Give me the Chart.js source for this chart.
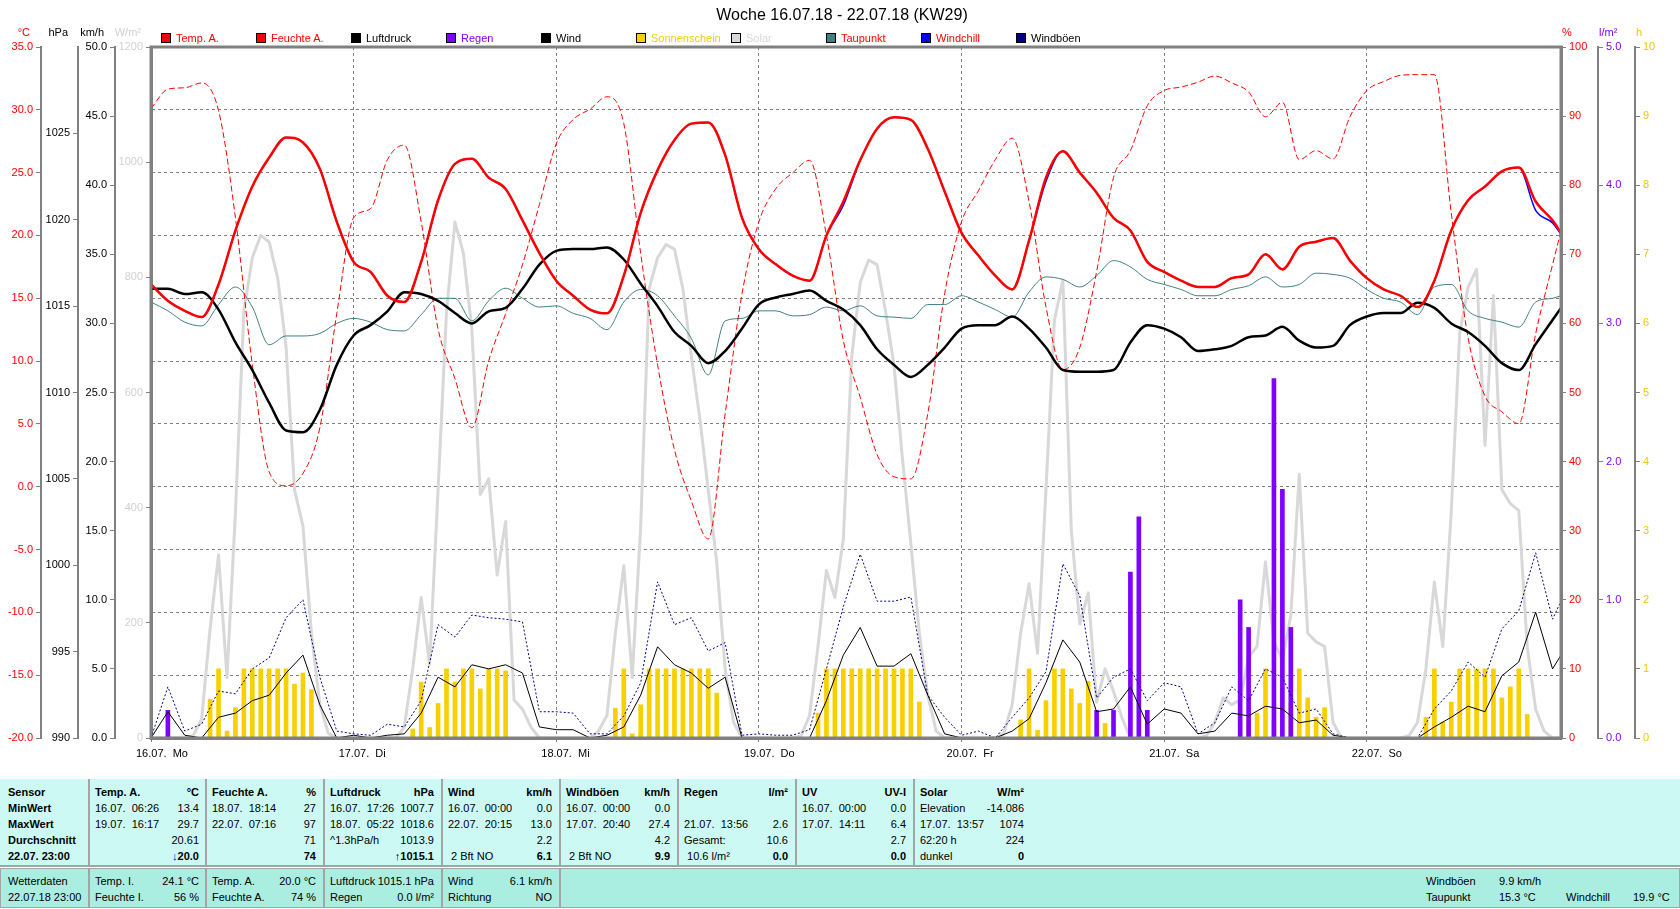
<!DOCTYPE html>
<html lang="de">
<head>
<meta charset="utf-8">
<title>Woche 16.07.18 - 22.07.18 (KW29)</title>
<script src="https://cdn.jsdelivr.net/npm/chart.js@4.4.1/dist/chart.umd.min.js"></script>
<style>
  html, body { margin: 0; padding: 0; background: #fff; }
  body { position: relative; width: 1680px; height: 909px; overflow: hidden;
         font-family: "Liberation Sans", Arial, sans-serif; font-size: 11px; color: #000; }
  #chart { position: absolute; left: 0; top: 0; }
  .t { position: absolute; white-space: pre; line-height: 16px; }
  #title { position: absolute; left: 0; width: 1684px; top: 6px; text-align: center;
           font-size: 16px; line-height: 18px; }
  .unit { position: absolute; top: 26px; line-height: 13px; white-space: pre; }
  .lg { position: absolute; top: 32px; height: 12px; display: flex; align-items: center; white-space: pre; }
  .lg i { display: inline-block; width: 8px; height: 8px; border: 1px solid #000; margin-right: 5px; }
  .panel1 { position: absolute; left: 0; top: 779px; width: 1680px; height: 86px;
            background: #cdf9f4; border-bottom: 2px solid #a4a4a4; }
  .panel2 { position: absolute; left: 0; top: 868px; width: 1678px; height: 38px;
            background: #aaeee2; border: 1px solid #a4a4a4; }
  .sep { position: absolute; width: 2px; background: #a4a4a4; }
  .b { font-weight: bold; }
</style>
</head>
<body>
<canvas id="chart" width="1680" height="770"></canvas>
<div id="title">Woche 16.07.18 - 22.07.18 (KW29)</div>
<div class="panel1"></div>
<div class="panel2"></div>
<script>
// Stunden seit 16.07. 00:00
const hours2 = [0,2,4,6,8,10,12,14,16,18,20,22,24,26,28,30,32,34,36,38,40,42,44,46,48,50,52,54,56,58,60,62,64,66,68,70,72,74,76,78,80,82,84,86,88,90,92,94,96,98,100,102,104,106,108,110,112,114,116,118,120,122,124,126,128,130,132,134,136,138,140,142,144,146,148,150,152,154,156,158,160,162,164,166,167];
const allHours = Array.from({ length: 168 }, (_, i) => i);
const dayHours = [0, 24, 48, 72, 96, 120, 144];
const dayLabels = ['16.07.  Mo', '17.07.  Di', '18.07.  Mi', '19.07.  Do', '20.07.  Fr', '21.07.  Sa', '22.07.  So'];

const tempA = [16.1,14.8,14.0,13.5,16.1,20.4,23.9,26.2,27.8,27.4,25.3,21.1,17.9,17.1,15.2,14.7,17.9,22.8,25.7,26.1,24.6,23.7,
  21.2,18.6,16.4,15.2,14.1,13.8,16.8,21.8,25.2,27.6,28.9,29.0,26.4,21.4,18.9,17.7,16.8,16.4,20.0,22.7,26.0,
  28.5,29.4,29.2,26.9,23.5,20.2,18.4,16.8,15.7,19.6,24.6,26.7,25.0,23.4,21.4,20.4,17.9,17.1,16.4,15.9,
  15.9,16.6,16.9,18.5,17.3,19.1,19.5,19.8,18.0,16.6,15.7,15.2,14.3,16.4,20.4,22.8,23.9,25.1,25.4,22.7,21.2,20.2];
const windchill = [16.1,14.8,14.0,13.5,16.1,20.4,23.9,26.2,27.8,27.4,25.3,21.1,17.9,17.1,15.2,14.7,17.9,22.8,25.7,26.1,24.6,23.7,
  21.2,18.6,16.4,15.2,14.1,13.8,16.8,21.8,25.2,27.6,28.9,29.0,26.4,21.4,18.9,17.7,16.8,16.4,20.0,22.4,26.0,
  28.5,29.4,29.2,26.9,23.5,20.2,18.4,16.8,15.7,19.6,24.3,26.7,25.0,23.4,21.4,20.4,17.9,17.1,16.4,15.9,
  15.9,16.6,16.9,18.5,17.3,19.1,19.5,19.8,18.0,16.6,15.7,15.2,14.3,16.4,20.4,22.8,23.9,25.1,25.4,22.0,21.0,20.1];
const humidity = [91.1,93.9,94.1,94.8,90.8,75.3,54.0,38.5,36.5,38.3,44.9,61.4,75.3,76.6,83.7,85.8,74.7,59.2,52.0,44.9,54.6,61.4,
  68.5,77.2,86.0,89.5,91.0,92.8,88.9,70.1,54.0,41.7,34.3,28.8,46.9,64.3,74.7,79.5,81.8,83.6,72.7,57.5,49.3,
  41.0,37.8,37.5,46.9,64.3,74.7,79.2,83.7,86.8,77.6,62.4,53.3,56.5,67.5,81.1,85.0,91.5,93.7,94.2,94.9,
  95.8,94.8,93.5,89.9,92.0,83.7,85.0,83.8,89.9,93.7,95.0,95.9,96.0,96.0,76.0,57.9,49.5,47.2,45.5,58.5,68.5,73.4];
const pressure = [1016.0,1016.0,1015.7,1015.8,1014.8,1012.9,1011.3,1009.4,1007.8,1007.7,1009.0,1011.6,1013.3,1013.9,1014.7,1015.8,1015.7,1015.3,1014.6,1014.0,1014.7,1014.9,
  1016.0,1017.4,1018.2,1018.3,1018.3,1018.4,1017.7,1016.3,1015.0,1013.5,1012.7,1011.7,1012.4,1013.7,1015.1,1015.5,1015.7,1015.9,1015.3,1014.8,1013.9,
  1012.5,1011.6,1010.9,1011.6,1012.6,1013.7,1013.9,1013.9,1014.4,1013.7,1012.6,1011.3,1011.2,1011.2,1011.3,1012.9,1013.9,1013.7,1013.2,1012.4,
  1012.5,1012.7,1013.2,1013.3,1013.8,1013.0,1012.6,1012.7,1013.9,1014.4,1014.6,1014.6,1015.2,1014.9,1014.0,1013.5,1012.7,1011.7,1011.3,1012.8,1014.2,1014.9];
const dewpoint = [14.7,14.0,13.1,12.8,14.5,15.9,14.3,11.3,12.0,12.0,12.2,13.0,13.4,13.1,12.5,12.4,13.7,15.0,15.0,13.2,14.8,15.8,
  15.0,14.3,14.4,13.8,13.4,12.5,14.7,15.7,15.2,13.6,11.8,8.9,13.2,13.4,14.0,14.0,13.6,13.7,14.3,14.0,14.4,
  13.6,13.5,13.4,14.5,14.5,15.2,14.7,14.1,13.5,15.5,16.7,16.5,15.9,16.8,18.0,17.5,16.5,16.1,15.7,15.2,
  15.2,15.7,16.0,16.7,15.9,16.1,17.0,16.9,16.6,15.7,15.0,14.7,13.7,15.9,16.1,14.0,13.4,13.1,12.7,14.7,15.0,15.2];
const wind = [0,1.9,0.2,0,1.5,1.8,2.7,3.1,4.7,6.0,2.4,0,0.2,0,0.2,0.3,1.8,4.4,3.7,5.3,5.0,5.3,
  4.7,0.8,0.6,0.6,0,0.2,0.8,3.1,6.6,5.3,4.7,3.6,4.4,0,0,0,0,0,2.7,6.0,8.0,
  5.2,5.2,6.1,3.1,0.3,0,0,0,0.5,1.4,4.0,7.1,5.5,1.9,2.1,3.7,1.0,2.1,1.8,0.3,
  0.5,1.8,1.6,2.3,2.1,1.1,1.3,0.2,0,0,0,0,0,0.8,1.5,2.3,1.9,4.5,5.5,9.1,5.0,6.0];
const gusts = [0,3.7,0.5,1.0,3.4,3.2,5.0,5.8,8.7,10.0,4.4,0.5,0.3,0.2,1.0,0.8,2.7,8.2,7.3,8.9,8.7,8.6,
  8.4,1.9,1.9,1.8,0.3,0.3,1.6,4.0,11.3,8.2,8.7,6.3,6.9,0.2,0.3,0.2,0.2,0.6,5.0,9.5,13.3,
  9.9,9.9,10.2,3.1,1.5,0.2,0.5,0,1.5,2.9,4.8,12.6,10.3,2.9,4.4,5.0,2.7,4.0,3.7,0.3,
  1.1,3.7,2.7,5.0,4.4,1.8,2.1,0.3,0,0,0,0,0,2.1,3.4,5.5,4.4,7.9,9.2,13.4,8.6,9.9];
const solar = [
  0,0,0,0,0,4,33,190,318,105,392,741,834,873,861,799,679,431,368,182,58,8,0,0,
  0,0,0,0,0,0,19,120,244,128,431,741,896,842,710,423,450,283,376,66,50,19,0,0,
  0,0,0,0,0,12,39,182,299,105,368,780,834,857,849,780,663,555,431,306,120,27,0,0,
  0,0,0,0,0,4,39,159,291,244,345,663,791,830,822,741,648,485,337,182,74,12,0,0,
  0,0,0,0,0,8,58,182,268,147,431,725,795,361,198,252,62,120,81,35,0,0,0,0,
  0,0,0,0,0,4,27,70,58,66,140,159,306,167,136,213,458,182,167,159,27,0,0,0,
  0,0,0,0,0,4,27,120,271,159,392,702,783,814,508,768,431,407,395,159,50,12,0,0];
const sunshine = [
  0,0,0,0,0,0,0,0.56,1,0.1,0.44,1,1,1,1,1,1,0.78,0.94,0.7,0,0,0,0,
  0,0,0,0,0,0,0,0.13,0.81,0.15,0.5,1,0.81,1,1,0.71,1,1,0.97,0,0,0,0,0,
  0,0,0,0,0,0,0,0.43,1,0.06,0.48,1,1,1,1,1,1,1,1,0.65,0,0,0,0,
  0,0,0,0,0,0,0,0.36,1,1,1,1,1,1,1,1,1,1,1,0.52,0,0,0,0,
  0,0,0,0,0,0,0,0.26,1,0.11,0.54,1,1,0.71,0.5,0.82,0,0.21,0,0,0,0,0,0,
  0,0,0,0,0,0,0,0,0,0,0.23,0.36,1,0.26,0,0.5,1,0.58,0.3,0.44,0,0,0,0,
  0,0,0,0,0,0,0,0.3,1,0.23,0.52,1,1,1,1,1,0.58,0.74,1,0.34,0,0,0,0];
const rainHours = [2, 112, 114, 116, 117, 118, 129, 130, 133, 134, 135];
const rain = [0.2, 0.2, 0.2, 1.2, 1.6, 0.2, 1.0, 0.8, 2.6, 1.8, 0.8];

const legendLabels = ['Temp. A.', 'Feuchte A.', 'Luftdruck', 'Regen', 'Wind', 'Sonnenschein', 'Solar', 'Taupunkt', 'Windchill', 'Windböen'];
const legendBoxColors = ['#ff0000', '#ff0000', '#000000', '#8000ff', '#000000', '#f8d000', '#d8d8d8', '#408080', '#0000ff', '#000080'];
const legendTextColors = ['#ff0000', '#ff0000', '#000000', '#8000ff', '#000000', '#f0d000', '#d8d8d8', '#ff0000', '#ff0000', '#000000'];

const sensorRows = ['Sensor', 'MinWert', 'MaxWert', 'Durchschnitt', '22.07. 23:00'];
const statHeads = [['Temp. A.', '°C'], ['Feuchte A.', '%'], ['Luftdruck', 'hPa'], ['Wind', 'km/h'],
  ['Windböen', 'km/h'], ['Regen', 'l/m²'], ['UV', 'UV-I'], ['Solar', 'W/m²']];
const statLeft = [
  ['16.07.  06:26', '19.07.  16:17', '', ''],
  ['18.07.  18:14', '22.07.  07:16', '', ''],
  ['16.07.  17:26', '18.07.  05:22', '^1.3hPa/h', ''],
  ['16.07.  00:00', '22.07.  20:15', '', ' 2 Bft NO'],
  ['16.07.  00:00', '17.07.  20:40', '', ' 2 Bft NO'],
  ['', '21.07.  13:56', 'Gesamt:', ' 10.6 l/m²'],
  ['16.07.  00:00', '17.07.  14:11', '', ''],
  ['Elevation', '17.07.  13:57', '62:20 h', 'dunkel']];
const statRight = [
  ['13.4', '29.7', '20.61', '20.0'],
  ['27', '97', '71', '74'],
  ['1007.7', '1018.6', '1013.9', '1015.1'],
  ['0.0', '13.0', '2.2', '6.1'],
  ['0.0', '27.4', '4.2', '9.9'],
  ['', '2.6', '10.6', '0.0'],
  ['0.0', '6.4', '2.7', '0.0'],
  ['-14.086', '1074', '224', '0']];
const trendArrows = [['↓', '#0000ff'], null, ['↑', '#000000'], null, null, null, null, null];
const nowLeft = [['Wetterdaten', '22.07.18 23:00'], ['Temp. I.', 'Feuchte I.'], ['Temp. A.', 'Feuchte A.'], ['Luftdruck', 'Regen'], ['Wind', 'Richtung']];
const nowRight = [['', ''], ['24.1 °C', '56 %'], ['20.0 °C', '74 %'], ['1015.1 hPa', '0.0 l/m²'], ['6.1 km/h', 'NO']];
const nowExtra = [['Windböen', '9.9 km/h', '', ''], ['Taupunkt', '15.3 °C', 'Windchill', '19.9 °C']];

// ---------- Texte (Legende, Einheiten, Tabelle) ----------
function addText(txt, x, y, opts) {
  opts = opts || {};
  const d = document.createElement('div');
  d.className = 't' + (opts.bold ? ' b' : '');
  d.textContent = txt;
  if (opts.right) d.style.right = (1680 - x) + 'px'; else d.style.left = x + 'px';
  d.style.top = y + 'px';
  if (opts.color) d.style.color = opts.color;
  document.body.appendChild(d);
  return d;
}

legendLabels.forEach((lab, i) => {
  const d = document.createElement('div');
  d.className = 'lg';
  d.style.left = (161 + i * 95) + 'px';
  d.style.color = legendTextColors[i];
  d.innerHTML = '<i style="background:' + legendBoxColors[i] + '"></i>';
  d.appendChild(document.createTextNode(lab));
  document.body.appendChild(d);
});

[['°C', 30, '#ff0000', true], ['hPa', 68, '#000', true], ['km/h', 104, '#000', true], ['W/m²', 141, '#d0d0d0', true],
 ['%', 1562, '#ff0000', false], ['l/m²', 1599, '#8000ff', false], ['h', 1636, '#f0c800', false]].forEach(u => {
  const d = document.createElement('div');
  d.className = 'unit';
  d.textContent = u[0];
  d.style.color = u[2];
  if (u[3]) d.style.right = (1680 - u[1]) + 'px'; else d.style.left = u[1] + 'px';
  document.body.appendChild(d);
});

const colStarts = [88, 205, 323, 441, 559, 677, 795, 913];
const row1Top = 784, row2Top = 873;
colStarts.forEach(x => {
  const s = document.createElement('div');
  s.className = 'sep'; s.style.left = x + 'px'; s.style.top = '779px'; s.style.height = '86px';
  document.body.appendChild(s);
});
colStarts.slice(0, 5).forEach(x => {
  const s = document.createElement('div');
  s.className = 'sep'; s.style.left = x + 'px'; s.style.top = '868px'; s.style.height = '40px';
  document.body.appendChild(s);
});

sensorRows.forEach((t, r) => addText(t, 8, row1Top + r * 16, { bold: true }));
statHeads.forEach((h, c) => {
  const x0 = colStarts[c] + 7, x1 = colStarts[c] + 111;
  addText(h[0], x0, row1Top, { bold: true });
  addText(h[1], x1, row1Top, { bold: true, right: true });
  for (let r = 0; r < 4; r++) {
    const y = row1Top + (r + 1) * 16;
    if (statLeft[c][r]) addText(statLeft[c][r], x0, y);
    const last = r === 3;
    const d = addText(statRight[c][r], x1, y, { right: true, bold: last });
    if (last && trendArrows[c]) {
      const a = document.createElement('span');
      a.textContent = trendArrows[c][0];
      a.style.color = trendArrows[c][1];
      d.insertBefore(a, d.firstChild);
    }
  }
});
nowLeft.forEach((pair, c) => {
  const x0 = c === 0 ? 8 : colStarts[c - 1] + 7;
  const x1 = c === 0 ? 80 : colStarts[c - 1] + 111;
  pair.forEach((t, r) => addText(t, x0, row2Top + r * 16));
  nowRight[c].forEach((t, r) => { if (t) addText(t, x1, row2Top + r * 16, { right: true }); });
});
const extraX = [1426, 1499, 1566, 1633];
nowExtra.forEach((row, r) => row.forEach((t, k) => { if (t) addText(t, extraX[k], row2Top + r * 16); }));

// ---------- Diagramm ----------
Chart.defaults.font.family = "'Liberation Sans', Arial, sans-serif";
Chart.defaults.font.size = 11;
Chart.defaults.color = '#000';
const GRID = '#808080';

const pts = (xs, ys) => xs.map((x, i) => ({ x: x, y: ys[i] }));

function yAxis(o) {
  return {
    type: 'linear', position: o.pos, weight: o.weight, min: o.min, max: o.max,
    afterFit: s => { s.width = o.width; },
    ticks: { stepSize: o.step, maxTicksLimit: 30, color: o.color, padding: 3, callback: o.fmt },
    grid: { drawOnChartArea: !!o.grid, offset: false, color: GRID, lineWidth: 1, tickLength: 5, tickColor: GRID, tickWidth: 1 },
    border: { display: true, color: GRID, width: o.bw || 2, dash: [3, 3] }
  };
}

const framePlugin = {
  id: 'frame',
  afterDatasetsDraw(chart) {
    const { ctx, chartArea: a } = chart;
    ctx.save();
    ctx.strokeStyle = GRID;
    ctx.lineWidth = 3;
    ctx.strokeRect(a.left, a.top, a.right - a.left, a.bottom - a.top);
    ctx.restore();
  }
};

new Chart(document.getElementById('chart').getContext('2d'), {
  type: 'line',
  data: {
    datasets: [
      { label: 'Temp. A.', data: pts(hours2, tempA), yAxisID: 'yT', borderColor: '#ff0000', borderWidth: 2.5,
        cubicInterpolationMode: 'monotone', order: 1 },
      { label: 'Luftdruck', data: pts(hours2, pressure), yAxisID: 'yP', borderColor: '#000000', borderWidth: 2.5,
        cubicInterpolationMode: 'monotone', order: 2 },
      { label: 'Windchill', data: pts(hours2, windchill), yAxisID: 'yT', borderColor: '#0000ff', borderWidth: 1.5,
        cubicInterpolationMode: 'monotone', order: 3 },
      { label: 'Feuchte A.', data: pts(hours2, humidity), yAxisID: 'yH', borderColor: '#ff0000', borderWidth: 1,
        borderDash: [6, 3], cubicInterpolationMode: 'monotone', order: 4 },
      { label: 'Wind', data: pts(hours2, wind), yAxisID: 'yW', borderColor: '#000000', borderWidth: 1, order: 5 },
      { label: 'Windböen', data: pts(hours2, gusts), yAxisID: 'yW', borderColor: '#000080', borderWidth: 1,
        borderDash: [2, 2], order: 6 },
      { label: 'Taupunkt', data: pts(hours2, dewpoint), yAxisID: 'yT', borderColor: '#408080', borderWidth: 1,
        cubicInterpolationMode: 'monotone', order: 7 },
      { type: 'bar', label: 'Regen', data: pts(rainHours, rain), yAxisID: 'yR', backgroundColor: '#8000ff',
        barThickness: 4, grouped: false, order: 8 },
      { type: 'bar', label: 'Sonnenschein', data: pts(allHours, sunshine).filter(p => p.y > 0), yAxisID: 'yh',
        backgroundColor: '#f8d000', barThickness: 4, grouped: false, order: 9 },
      { label: 'Solar', data: pts(allHours, solar), yAxisID: 'yS', borderColor: '#d8d8d8', borderWidth: 3, order: 10 }
    ]
  },
  options: {
    responsive: false,
    animation: false,
    layout: { padding: { top: 47, left: 0, right: 0, bottom: 0 } },
    elements: { point: { radius: 0 }, line: { borderJoinStyle: 'round' } },
    plugins: { legend: { display: false }, tooltip: { enabled: false }, title: { display: false } },
    scales: {
      x: {
        type: 'linear', position: 'bottom', min: 0, max: 167, offset: false,
        afterBuildTicks: s => { s.ticks = dayHours.map(v => ({ value: v })); },
        afterFit: s => { s.height = 32; },
        ticks: { autoSkip: false, maxRotation: 0, align: 'start', labelOffset: -15, padding: 5,
                 callback: (v, i) => dayLabels[i] },
        grid: { offset: false, color: GRID, lineWidth: 1, tickLength: 4, tickColor: GRID },
        border: { display: true, color: GRID, width: 3, dash: [3, 3] }
      },
      yT: yAxis({ pos: 'left', weight: 4, width: 41, min: -20, max: 35, step: 5, color: '#ff0000', grid: true,
                  fmt: v => v.toFixed(1) }),
      yP: yAxis({ pos: 'left', weight: 3, width: 37, min: 990, max: 1030, step: 5, color: '#000000',
                  fmt: v => (v >= 1030 ? null : String(v)) }),
      yW: yAxis({ pos: 'left', weight: 2, width: 37, min: 0, max: 50, step: 5, color: '#000000',
                  fmt: v => v.toFixed(1) }),
      yS: yAxis({ pos: 'left', weight: 1, width: 36, min: 0, max: 1200, step: 200, color: '#d0d0d0', bw: 3,
                  fmt: v => String(v) }),
      yH: yAxis({ pos: 'right', weight: 1, width: 37, min: 0, max: 100, step: 10, color: '#ff0000', bw: 3,
                  fmt: v => String(v) }),
      yR: yAxis({ pos: 'right', weight: 2, width: 37, min: 0, max: 5, step: 1, color: '#8000ff',
                  fmt: v => v.toFixed(1) }),
      yh: yAxis({ pos: 'right', weight: 3, width: 45, min: 0, max: 10, step: 1, color: '#f0c800',
                  fmt: v => String(v) })
    }
  },
  plugins: [framePlugin]
});
</script>
</body>
</html>
